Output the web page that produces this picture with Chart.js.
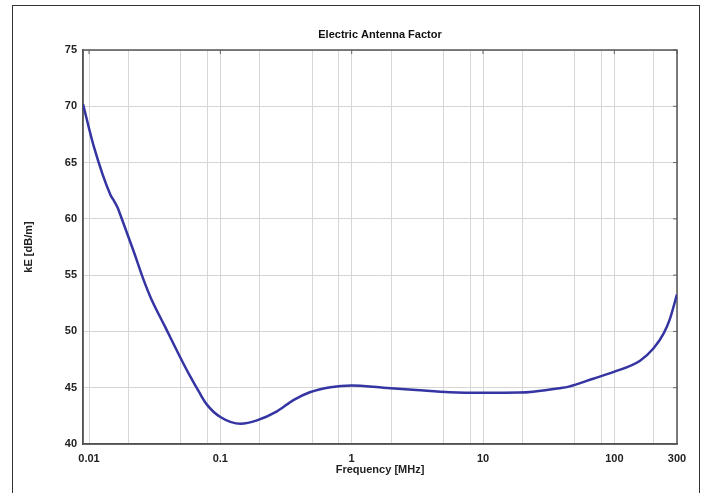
<!DOCTYPE html>
<html>
<head>
<meta charset="utf-8">
<script src="https://cdn.jsdelivr.net/npm/chart.js@4/dist/chart.umd.min.js"></script>
<style>
	body { margin: 0; background: #fff; }
	#wrap { position: relative; width: 704px; height: 493px; overflow: hidden; }
	#antennaFactor { position: absolute; left: 0; top: 0; }
	#frame { position: absolute; left: 12px; top: 5px; width: 686px; height: 500px; border: 1.5px solid #333; pointer-events: none; }
</style>
</head>
<body>
<div id="wrap">
	<canvas id="antennaFactor" width="704" height="493"></canvas>
	<div id="frame"></div>
</div>
<script>
//ELECTRIC ANTENNA FACTOR
//kE vs frequency, log x axis

const freqMHz = [
	0.009, 0.0109, 0.0146, 0.0155, 0.0165, 0.0174, 0.0219, 0.026, 0.0295, 0.038,
	0.05, 0.059, 0.069, 0.079, 0.1, 0.143, 0.19, 0.27, 0.36, 0.48, 0.69,
	1.0, 1.75, 3.1, 5.6, 10, 19, 24, 38, 45, 69,
	99, 157, 199, 237, 263, 300,
];
const kE = [
	70.2, 66.4, 62.1, 61.6, 61.0, 60.3, 57.1, 54.6, 53.0, 50.4,
	47.6, 46.0, 44.6, 43.5, 42.4, 41.8, 42.1, 42.9, 43.9, 44.6, 45.05,
	45.2, 45.0, 44.8, 44.6, 44.55, 44.57, 44.65, 44.95, 45.1, 45.8,
	46.4, 47.4, 48.5, 49.8, 51.0, 53.3,
];

// grid lines at 1, 2, 5, 8 per decade, labels only where listed
const xGridValues = [
	0.01, 0.02, 0.05, 0.08, 0.1, 0.2, 0.5, 0.8, 1, 2, 5, 8,
	10, 20, 50, 80, 100, 200, 300,
];
const xTickLabels = ["0.01", "0.1", "1", "10", "100", "300"];
const yTicks = [40, 45, 50, 55, 60, 65, 70, 75];

const fontFamily = "'Liberation Sans', Arial, sans-serif";
const tickFont = { family: fontFamily, size: 11, weight: "bold" };

// box around the plot plus small inward ticks on top and right edges
const plotBox = {
	id: "plotBox",
	beforeDatasetsDraw(chart) {
		const { ctx, chartArea: a, scales } = chart;
		ctx.save();
		ctx.strokeStyle = "#666";
		ctx.lineWidth = 1;
		ctx.beginPath();
		xTickLabels.forEach((l) => {
			const px = scales.x.getPixelForValue(parseFloat(l));
			ctx.moveTo(px, a.top);
			ctx.lineTo(px, a.top + 4);
		});
		yTicks.forEach((v) => {
			const py = scales.y.getPixelForValue(v);
			ctx.moveTo(a.right, py);
			ctx.lineTo(a.right - 4, py);
		});
		ctx.stroke();
		ctx.strokeStyle = "#555";
		ctx.lineWidth = 1.5;
		ctx.strokeRect(a.left, a.top, a.right - a.left, a.bottom - a.top);
		ctx.restore();
	},
	afterDraw(chart) {
		const { ctx, chartArea: a } = chart;
		ctx.save();
		ctx.font = "bold 11px " + fontFamily;
		ctx.fillStyle = "#111";
		ctx.textAlign = "center";
		ctx.textBaseline = "middle";
		ctx.fillText("Electric Antenna Factor", (a.left + a.right) / 2, 35);
		ctx.restore();
	},
};

const antennaData = {
	datasets: [
		{
			label: "kE",
			data: freqMHz.map((f, i) => ({ x: f, y: kE[i] })),
			borderColor: "#3434a2",
			borderWidth: 2.5,
			pointRadius: 0,
			fill: false,
			cubicInterpolationMode: "monotone",
		},
	],
};

const antennaConfig = {
	type: "line",
	data: antennaData,
	options: {
		responsive: false,
		animation: false,
		layout: { padding: { left: 12, right: 27, top: 50, bottom: 0 } },
		plugins: {
			legend: { display: false },
			tooltip: { enabled: false },
		},
		scales: {
			x: {
				type: "logarithmic",
				min: 0.009,
				max: 300,
				afterBuildTicks: (scale) => {
					scale.ticks = xGridValues.map((v) => ({ value: v }));
				},
				afterFit: (scale) => {
					scale.height = 49;
				},
				ticks: {
					autoSkip: false,
					maxRotation: 0,
					padding: 8,
					color: "#222",
					font: tickFont,
					callback: (value) => {
						const lbl = xTickLabels.find((l) => Math.abs(parseFloat(l) - value) < value * 1e-6);
						return lbl || "";
					},
				},
				grid: { color: "#d6d6d6", lineWidth: 1, drawTicks: false },
				border: { color: "#555", width: 1.5 },
				title: {
					display: true,
					text: "Frequency [MHz]",
					color: "#222",
					font: tickFont,
					padding: { top: 0, bottom: 16 },
				},
			},
			y: {
				min: 40,
				max: 75,
				afterBuildTicks: (scale) => {
					scale.ticks = yTicks.map((v) => ({ value: v }));
				},
				afterFit: (scale) => {
					scale.width = 71;
				},
				ticks: {
					padding: 6,
					color: "#222",
					font: tickFont,
				},
				grid: { color: "#d6d6d6", lineWidth: 1, drawTicks: false },
				border: { color: "#555", width: 1.5 },
				title: {
					display: true,
					text: "kE [dB/m]",
					color: "#222",
					font: tickFont,
					padding: { top: 10, bottom: 0 },
				},
			},
		},
	},
	plugins: [plotBox],
};

const AntennaChart = new Chart(
	document.getElementById("antennaFactor"),
	antennaConfig
);
</script>
</body>
</html>
